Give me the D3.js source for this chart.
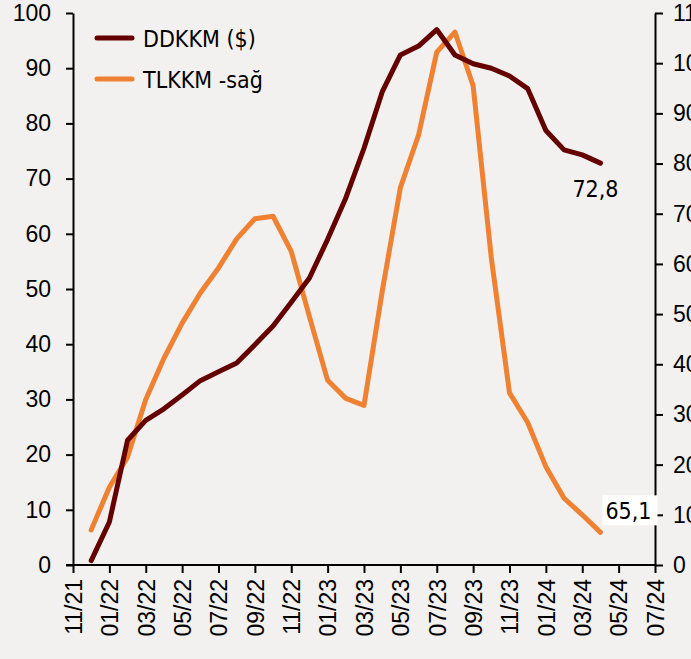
<!DOCTYPE html>
<html lang="en">

<head>
  <meta charset="utf-8">
  <title>DDKKM / TLKKM</title>
  <script src="https://cdn.jsdelivr.net/npm/d3@7"></script>
  <style>
    html, body { margin: 0; padding: 0; background: #f2f1ef; }
    svg { display: block; font-family: "DejaVu Sans", sans-serif; font-stretch: condensed; }
  </style>
</head>

<body>
  <script>
    // month labels on x axis (every 2 months, starting 11/21)
    var tickLabels = ["11/21", "01/22", "03/22", "05/22", "07/22", "09/22", "11/22", "01/23", "03/23",
      "05/23", "07/23", "09/23", "11/23", "01/24", "03/24", "05/24", "07/24"];

    // monthly data from 12/21 to 04/24
    var months = ["12/21", "01/22", "02/22", "03/22", "04/22", "05/22", "06/22", "07/22", "08/22", "09/22",
      "10/22", "11/22", "12/22", "01/23", "02/23", "03/23", "04/23", "05/23", "06/23", "07/23", "08/23",
      "09/23", "10/23", "11/23", "12/23", "01/24", "02/24", "03/24", "04/24"];

    // DDKKM ($) - left axis
    var ddkkm = [0.8, 7.8, 22.6, 26.2, 28.3, 30.8, 33.4, 35.0, 36.6, 39.9,
      43.3, 47.6, 52.0, 59.0, 66.5, 75.5, 85.7, 92.4, 94.0, 97.0, 92.4,
      90.8, 90.0, 88.6, 86.3, 78.7, 75.2, 74.3, 72.8];

    // TLKKM - right axis
    var tlkkm = [70, 155, 215, 330, 412, 482, 542, 592, 650, 690,
      695, 625, 495, 368, 332, 318, 545, 752, 857, 1022, 1062,
      955, 612, 343, 284, 196, 133, 100, 65.1];

    var leftTicks = [0, 10, 20, 30, 40, 50, 60, 70, 80, 90, 100];
    var rightTicks = [0, 100, 200, 300, 400, 500, 600, 700, 800, 900, 1000, 1100];

    var width = 691;
    var height = 659;
    var margin = { top: 13, right: 36, bottom: 94, left: 73 };

    var svg = d3.select("body").append("svg")
      .attr("width", width)
      .attr("height", height);

    svg.append("rect")
      .attr("width", width)
      .attr("height", height)
      .attr("fill", "#f2f1ef");

    // month index: 0 = 11/21
    var x = d3.scaleLinear()
      .domain([0, 32])
      .range([margin.left, width - margin.right]);

    var yLeft = d3.scaleLinear()
      .domain([0, 100])
      .range([height - margin.bottom, margin.top]);

    var yRight = d3.scaleLinear()
      .domain([0, 1100])
      .range([height - margin.bottom, margin.top]);

    var fontSize = 23;

    // x axis
    var xAxis = svg.append("g")
      .attr("transform", "translate(0," + (height - margin.bottom) + ")")
      .call(d3.axisBottom(x)
        .tickValues(tickLabels.map(function(d, i) { return i * 2; }))
        .tickFormat(function(d) { return tickLabels[d / 2]; })
        .tickSize(8)
        .tickSizeOuter(0));

    xAxis.select(".domain")
      .attr("d", "M" + (margin.left - 7) + ",0H" + (width - margin.right));

    xAxis.selectAll("text")
      .attr("transform", "rotate(-90)")
      .attr("text-anchor", "end")
      .attr("x", -14)
      .attr("y", 0)
      .attr("dy", "0.36em")
      .attr("font-size", fontSize)
      .attr("font-family", null)
      .attr("fill", "#000");

    // left axis
    var leftAxis = svg.append("g")
      .attr("transform", "translate(" + margin.left + ",0)")
      .call(d3.axisLeft(yLeft)
        .tickValues(leftTicks)
        .tickSize(7)
        .tickSizeOuter(0)
        .tickPadding(15));

    leftAxis.selectAll("text")
      .attr("font-size", fontSize)
      .attr("font-family", null)
      .attr("fill", "#000");

    // right axis (labels run off the right edge, as in the original)
    var rightAxis = svg.append("g")
      .attr("transform", "translate(" + (width - margin.right) + ",0)")
      .call(d3.axisRight(yRight)
        .tickValues(rightTicks)
        .tickFormat(d3.format("d"))
        .tickSize(8)
        .tickSizeOuter(0)
        .tickPadding(10));

    rightAxis.selectAll("text")
      .attr("font-size", fontSize)
      .attr("font-family", null)
      .attr("fill", "#000");

    svg.selectAll(".domain, .tick line")
      .attr("stroke", "#000")
      .attr("stroke-width", 2);

    // lines
    var lineLeft = d3.line()
      .x(function(d, i) { return x(i + 1); })
      .y(function(d) { return yLeft(d); });

    var lineRight = d3.line()
      .x(function(d, i) { return x(i + 1); })
      .y(function(d) { return yRight(d); });

    svg.append("path")
      .datum(tlkkm)
      .attr("fill", "none")
      .attr("stroke", "#ef8133")
      .attr("stroke-width", 5)
      .attr("stroke-linecap", "round")
      .attr("stroke-linejoin", "round")
      .attr("d", lineRight);

    svg.append("path")
      .datum(ddkkm)
      .attr("fill", "none")
      .attr("stroke", "#650000")
      .attr("stroke-width", 5)
      .attr("stroke-linecap", "round")
      .attr("stroke-linejoin", "round")
      .attr("d", lineLeft);

    // end labels
    var last = months.length;
    svg.append("text")
      .attr("x", x(last) - 28)
      .attr("y", yLeft(ddkkm[last - 1]) + 34)
      .attr("font-size", fontSize)
      .text("72,8");

    var lbl = svg.append("g")
      .attr("transform", "translate(" + (x(last) + 2) + "," + (yRight(tlkkm[last - 1]) - 37) + ")");
    lbl.append("rect")
      .attr("width", 55)
      .attr("height", 30)
      .attr("fill", "#fff");
    lbl.append("text")
      .attr("x", 3)
      .attr("y", 24)
      .attr("font-size", fontSize)
      .text("65,1");

    // legend
    var legendItems = [
      { name: "DDKKM ($)", color: "#650000" },
      { name: "TLKKM -sağ", color: "#ef8133" }
    ];

    var legend = svg.append("g")
      .selectAll("g")
      .data(legendItems)
      .enter()
      .append("g")
      .attr("transform", function(d, i) {
        return "translate(97," + (38 + i * 41) + ")";
      });

    legend.append("line")
      .attr("x1", 0)
      .attr("x2", 35)
      .attr("stroke", function(d) { return d.color; })
      .attr("stroke-width", 5)
      .attr("stroke-linecap", "round");

    legend.append("text")
      .attr("x", 46)
      .attr("y", 9)
      .attr("font-size", fontSize)
      .text(function(d) { return d.name; });
  </script>
</body>

</html>
